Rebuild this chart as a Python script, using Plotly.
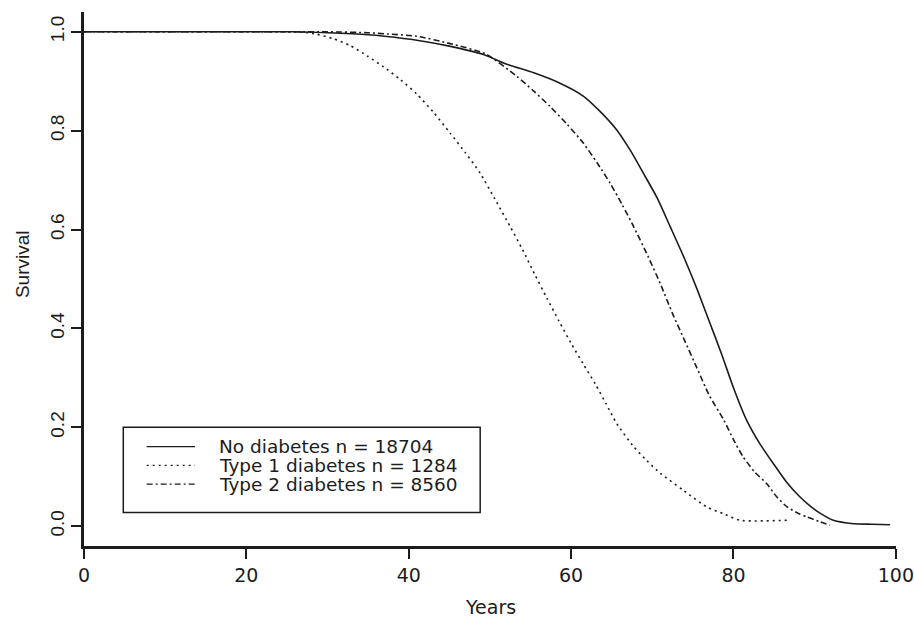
import plotly.graph_objects as go

# Kaplan-Meier survival by diabetes status (age in years)
series_names = ["No diabetes n = 18704", "Type 1 diabetes n = 1284", "Type 2 diabetes n = 8560"]

age_none = [0, 20, 26, 30, 35, 37, 41, 45, 49.2, 52, 55.4, 58.5, 61.5, 63.5, 65.6, 67.3, 68.9,
            70.6, 72.2, 74, 75.5, 77, 78.5, 80, 81.6, 83.2, 84.9, 86.5, 88.2, 89.5, 90.7,
            92.3, 94.8, 97, 99.3]
surv_none = [1.0, 1.0, 1.0, 0.998, 0.994, 0.991, 0.983, 0.971, 0.954, 0.935, 0.917, 0.897,
             0.870, 0.840, 0.802, 0.760, 0.714, 0.664, 0.606, 0.54, 0.48, 0.415, 0.35, 0.28,
             0.215, 0.168, 0.127, 0.09, 0.059, 0.04, 0.026, 0.012, 0.005, 0.004, 0.003]

age_t1 = [0, 20, 25, 27, 28.7, 30.7, 32.8, 34.9, 36.9, 39, 41, 43, 45.1, 47, 48.8, 50.6, 52.5,
          54, 55.5, 57, 58.5, 60, 61.5, 63, 64.3, 65.6, 67.7, 69.3, 71, 73.8, 76.7, 78.8,
          80.8, 86.6]
surv_t1 = [1.0, 1.0, 1.0, 0.999, 0.995, 0.986, 0.972, 0.951, 0.929, 0.903, 0.874, 0.838,
           0.795, 0.755, 0.714, 0.662, 0.606, 0.56, 0.51, 0.462, 0.415, 0.37, 0.328, 0.287,
           0.248, 0.208, 0.161, 0.133, 0.107, 0.073, 0.039, 0.025, 0.012, 0.012]

age_t2 = [0, 25, 30, 35, 37, 41, 45.1, 49.5, 53.3, 55.4, 57.4, 59.5, 61.5, 63.2, 64.8, 66.3,
          67.7, 69.5, 71, 72.5, 74, 75.5, 77, 78.8, 80, 81.2, 82.6, 84.1, 85.3, 86.6, 88, 89,
          90.5, 91.9]
surv_t2 = [1.0, 1.0, 1.0, 0.998, 0.996, 0.991, 0.976, 0.955, 0.910, 0.880, 0.849, 0.813,
           0.775, 0.735, 0.694, 0.650, 0.606, 0.545, 0.49, 0.43, 0.375, 0.32, 0.265, 0.215,
           0.175, 0.140, 0.11, 0.086, 0.06, 0.039, 0.026, 0.019, 0.01, 0.002]

x_ticks = [0, 20, 40, 60, 80, 100]
x_tick_labels = ["0", "20", "40", "60", "80", "100"]
y_ticks = [0.0, 0.2, 0.4, 0.6, 0.8, 1.0]
y_tick_labels = ["0.0", "0.2", "0.4", "0.6", "0.8", "1.0"]

INK = "#1c1c1c"
H_FONT = "DejaVu Sans"
V_FONT = "Liberation Sans"
dashes = ["solid", "2px,4px", "6px,3px,2px,3px"]
curves = [(age_none, surv_none), (age_t1, surv_t1), (age_t2, surv_t2)]

fig = go.Figure()
for name, (xs, ys), dash in zip(series_names, curves, dashes):
    fig.add_trace(go.Scatter(
        x=xs, y=ys, mode="lines", name=name, showlegend=False,
        line=dict(color=INK, width=1.6, dash=dash, shape="spline", smoothing=0.6),
    ))

# boxed key in the lower left
box_x0, box_x1 = 4.84, 48.8
box_y0, box_y1 = 0.028, 0.200
seg_x0, seg_x1 = 7.72, 13.68
text_x = 16.35
row_y = [0.161, 0.123, 0.085]
fig.add_shape(type="rect", xref="x", yref="y", x0=box_x0, x1=box_x1, y0=box_y0, y1=box_y1,
              line=dict(color=INK, width=1.5), fillcolor="rgba(0,0,0,0)")
for name, dash, yy in zip(series_names, dashes, row_y):
    fig.add_shape(type="line", xref="x", yref="y", x0=seg_x0, x1=seg_x1, y0=yy, y1=yy,
                  line=dict(color=INK, width=1.3, dash=dash))
    fig.add_annotation(x=text_x, y=yy, xref="x", yref="y", text=name, showarrow=False,
                       xanchor="left", yanchor="middle",
                       font=dict(family=H_FONT, size=18.5, color=INK))

fig.add_annotation(text="Survival", xref="paper", yref="paper", x=0, y=0.528,
                   xshift=-62, textangle=-90, showarrow=False, xanchor="center",
                   yanchor="middle", font=dict(family=V_FONT, size=19, color=INK))
fig.add_annotation(text="Years", xref="paper", yref="paper", x=0.5, y=0, yshift=-61,
                   showarrow=False, xanchor="center", yanchor="middle",
                   font=dict(family=H_FONT, size=19, color=INK))

fig.update_layout(
    width=914, height=619,
    margin=dict(l=84, r=18, t=12, b=73, autoexpand=False),
    paper_bgcolor="white", plot_bgcolor="white",
    xaxis=dict(range=[0, 100.02], tickvals=x_ticks, ticktext=x_tick_labels,
               automargin=False,
               showgrid=False, zeroline=False, showline=True, linecolor=INK, linewidth=2.5,
               ticks="outside", ticklen=10, tickwidth=1.5, tickcolor=INK,
               ticklabeloverflow="allow",
               tickfont=dict(family=H_FONT, size=19, color=INK)),
    yaxis=dict(range=[-0.04, 1.04], tickvals=y_ticks, ticktext=y_tick_labels,
               automargin=False,
               showgrid=False, zeroline=False, showline=True, linecolor=INK, linewidth=2.5,
               ticks="outside", ticklen=10, tickwidth=1.5, tickcolor=INK, tickangle=-90,
               tickfont=dict(family=V_FONT, size=19, color=INK)),
)

fig.write_html("out.html")
